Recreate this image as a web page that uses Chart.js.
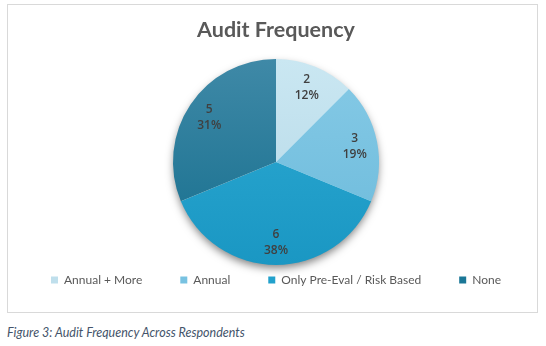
<!DOCTYPE html>
<html><head><meta charset="utf-8">
<script src="https://cdn.jsdelivr.net/npm/chart.js@4"></script>
<style>
html,body{margin:0;padding:0;background:#fff;}
#wrap{position:relative;width:546px;height:346px;overflow:hidden;background:#fff;}
#frame{position:absolute;left:7px;top:4px;width:529px;height:307px;border:1px solid #d9d9d9;}
#c{position:absolute;left:0;top:0;width:546px;height:320px;}
#cap{position:absolute;left:7px;top:325px;font:italic 12.5px Lato, sans-serif;color:#44546a;white-space:nowrap;}
</style></head><body>
<div id="wrap"><div id="frame"></div><canvas id="c" width="546" height="320"></canvas><div id="cap">Figure 3: Audit Frequency Across Respondents</div></div>
<script>
const categories = ['Annual + More', 'Annual', 'Only Pre-Eval / Risk Based', 'None'];
const counts = [2, 3, 6, 5];
const percentLabels = ['12%', '19%', '38%', '31%'];
const sliceColors = ['#bfdfec', '#78c2e1', '#22a1cc', '#1b7797'];
const sliceTopColors = ['#cae7f2', '#86cae6', '#2eabd4', '#3f89a7'];
const sliceBottomColors = ['#b3d7e6', '#6bbadb', '#1a97c3', '#156e8d'];
const chartTitle = 'Audit Frequency';
const PIE_RADIUS = 103;

function sliceFill(ctx) {
  const i = ctx.dataIndex;
  const area = ctx.chart.chartArea;
  if (!area || i === undefined) return sliceColors[i] || sliceColors[0];
  const cy = (area.top + area.bottom) / 2;
  const g = ctx.chart.ctx.createLinearGradient(0, cy - PIE_RADIUS, 0, cy + PIE_RADIUS);
  g.addColorStop(0, sliceTopColors[i]);
  g.addColorStop(1, sliceBottomColors[i]);
  return g;
}

const pieShadow = {
  id: 'pieShadow',
  beforeDatasetsDraw(chart) {
    const arc = chart.getDatasetMeta(0).data[0];
    if (!arc) return;
    const p = arc.getProps(['x', 'y', 'outerRadius']);
    const c = chart.ctx;
    c.save();
    c.shadowColor = 'rgba(0,0,0,0.5)';
    c.shadowBlur = 9;
    c.shadowOffsetY = 4;
    c.fillStyle = '#ffffff';
    c.beginPath();
    c.arc(p.x, p.y, p.outerRadius - 1, 0, Math.PI * 2);
    c.fill();
    c.restore();
  }
};

const arcLabels = {
  id: 'arcLabels',
  afterDatasetsDraw(chart) {
    const meta = chart.getDatasetMeta(0);
    const c = chart.ctx;
    c.save();
    c.font = '600 12px "Open Sans", sans-serif';
    c.fillStyle = '#404040';
    c.textAlign = 'center';
    c.textBaseline = 'middle';
    meta.data.forEach((arc, i) => {
      const p = arc.getProps(['x', 'y', 'startAngle', 'endAngle', 'outerRadius']);
      const mid = (p.startAngle + p.endAngle) / 2;
      const r = p.outerRadius * 0.78;
      const lx = p.x + Math.cos(mid) * r;
      const ly = p.y + Math.sin(mid) * r;
      c.fillText(String(counts[i]), lx, ly - 8);
      c.fillText(percentLabels[i], lx, ly + 8);
    });
    c.restore();
  }
};

new Chart(document.getElementById('c'), {
  type: 'pie',
  data: {
    labels: categories,
    datasets: [{
      data: counts,
      backgroundColor: sliceFill,
      borderWidth: 0,
      radius: PIE_RADIUS
    }]
  },
  options: {
    responsive: false,
    animation: false,
    layout: { padding: { left: 6, right: 0, top: 0, bottom: 24 } },
    plugins: {
      tooltip: { enabled: false },
      title: {
        display: true,
        text: chartTitle,
        color: '#595959',
        font: { family: 'Lato, sans-serif', size: 21.5, weight: 'bold' },
        padding: { top: 17, bottom: 45 }
      },
      legend: {
        position: 'bottom',
        labels: {
          boxWidth: 7,
          boxHeight: 7,
          padding: 38,
          color: '#595959',
          font: { family: 'Lato, sans-serif', size: 12 },
          generateLabels(chart) {
            return categories.map((t, i) => ({
              text: t,
              fillStyle: sliceColors[i],
              strokeStyle: sliceColors[i],
              lineWidth: 0,
              fontColor: '#595959',
              hidden: !chart.getDataVisibility(i),
              index: i
            }));
          }
        }
      }
    }
  },
  plugins: [pieShadow, arcLabels]
});
</script>
</body></html>
